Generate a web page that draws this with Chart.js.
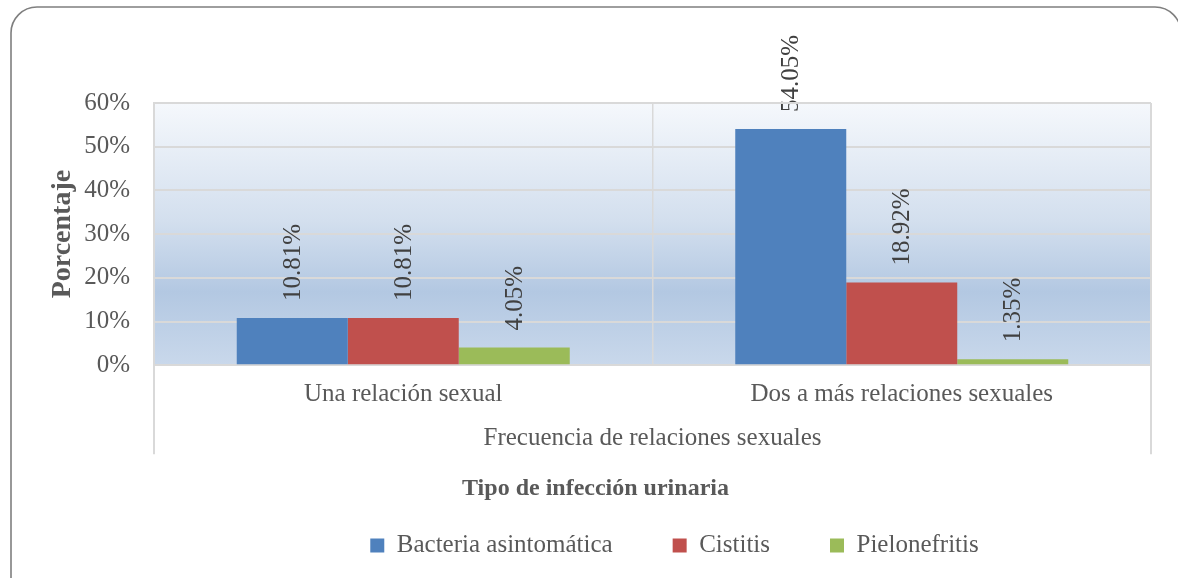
<!DOCTYPE html>
<html>
<head>
<meta charset="utf-8">
<script src="https://cdn.jsdelivr.net/npm/chart.js@4.4.1/dist/chart.umd.min.js"></script>
<style>
  html, body { margin: 0; padding: 0; background: #ffffff; }
  #wrap { width: 1178px; height: 578px; position: relative; }
</style>
</head>
<body>
<div id="wrap"><canvas id="c" width="1178" height="578"></canvas></div>
<script>
const categories = ["Una relación sexual", "Dos a más relaciones sexuales"];
const seriesNames = ["Bacteria asintomática", "Cistitis", "Pielonefritis"];
const bacteriaValues = [10.81, 54.05];
const cistitisValues = [10.81, 18.92];
const pielonefritisValues = [4.05, 1.35];
const yTicks = [0, 10, 20, 30, 40, 50, 60];
const seriesColors = ["#4f81bd", "#c0504d", "#9bbb59"];

const SERIF = "'Liberation Serif', 'Times New Roman', serif";
const GRID = "#d9d9d9";
const TEXT = "#595959";

const frame = {
  id: "frame",
  afterLayout(chart) {
    // legend items sit right of centre in the reference
    if (chart.legend) {
      chart.legend.left += 79;
      chart.legend.right += 79;
    }
  },
  beforeDraw(chart) {
    const ctx = chart.ctx;
    ctx.save();
    ctx.fillStyle = "#ffffff";
    ctx.fillRect(0, 0, chart.width, chart.height);
    ctx.strokeStyle = "#7f7f7f";
    ctx.lineWidth = 1.6;
    const x = 11, y = 7, w = 1170, h = 620, r = 26;
    ctx.beginPath();
    ctx.moveTo(x + r, y);
    ctx.lineTo(x + w - r, y);
    ctx.arcTo(x + w, y, x + w, y + r, r);
    ctx.lineTo(x + w, y + h);
    ctx.lineTo(x, y + h);
    ctx.lineTo(x, y + r);
    ctx.arcTo(x, y, x + r, y, r);
    ctx.closePath();
    ctx.stroke();
    const a = chart.chartArea;
    const g = ctx.createLinearGradient(0, a.top, 0, a.bottom);
    g.addColorStop(0, "#f5f8fc");
    g.addColorStop(0.45, "#d3dfee");
    g.addColorStop(0.72, "#b3c8e2");
    g.addColorStop(1, "#c9d8eb");
    ctx.fillStyle = g;
    ctx.fillRect(a.left, a.top, a.right - a.left, a.bottom - a.top);
    ctx.restore();
  },
  afterDraw(chart) {
    const ctx = chart.ctx;
    const a = chart.chartArea;
    const xs = chart.scales.x;
    ctx.save();
    ctx.strokeStyle = GRID;
    ctx.lineWidth = 2;
    ctx.beginPath();
    ctx.moveTo(a.left, a.top);
    ctx.lineTo(a.right, a.top);
    ctx.moveTo(a.right, a.top);
    ctx.lineTo(a.right, xs.bottom);
    ctx.moveTo(a.left, a.bottom);
    ctx.lineTo(a.left, xs.bottom);
    ctx.stroke();
    ctx.restore();
  }
};

const valueLabels = {
  id: "valueLabels",
  afterDatasetsDraw(chart) {
    const ctx = chart.ctx;
    ctx.save();
    ctx.fillStyle = "#404040";
    ctx.font = "25px " + SERIF;
    ctx.textAlign = "left";
    ctx.textBaseline = "middle";
    chart.data.datasets.forEach((ds, i) => {
      const meta = chart.getDatasetMeta(i);
      meta.data.forEach((bar, j) => {
        const v = ds.data[j];
        ctx.save();
        ctx.translate(bar.x, bar.y - 17);
        ctx.rotate(-Math.PI / 2);
        ctx.fillText(v.toFixed(2) + "%", 0, 1);
        ctx.restore();
      });
    });
    ctx.restore();
  }
};

new Chart(document.getElementById("c"), {
  type: "bar",
  data: {
    labels: categories,
    datasets: [
      { label: seriesNames[0], data: bacteriaValues, backgroundColor: seriesColors[0] },
      { label: seriesNames[1], data: cistitisValues, backgroundColor: seriesColors[1] },
      { label: seriesNames[2], data: pielonefritisValues, backgroundColor: seriesColors[2] }
    ]
  },
  options: {
    responsive: false,
    animation: false,
    events: [],
    categoryPercentage: 0.668,
    barPercentage: 1.0,
    layout: { padding: { left: 40, right: 27, top: 103, bottom: 10 } },
    scales: {
      x: {
        grid: { color: GRID, lineWidth: 1.5, drawTicks: false, offset: true },
        border: { color: GRID, width: 2 },
        ticks: { color: TEXT, font: { family: SERIF, size: 25 }, padding: 14, maxRotation: 0 },
        title: {
          display: true,
          text: "Frecuencia de relaciones sexuales",
          color: TEXT,
          font: { family: SERIF, size: 25 },
          padding: { top: 0, bottom: 1 }
        },
        afterFit(s) { s.height = 89; }
      },
      y: {
        min: 0,
        max: 60,
        afterBuildTicks(s) { s.ticks = yTicks.map(v => ({ value: v })); },
        grid: { color: GRID, lineWidth: 2, drawTicks: false },
        border: { color: GRID, width: 2 },
        ticks: {
          color: TEXT,
          font: { family: SERIF, size: 25 },
          padding: 24,
          callback: v => v + "%"
        },
        title: {
          display: true,
          text: "Porcentaje",
          color: TEXT,
          font: { family: SERIF, size: 28, weight: "bold" },
          padding: { top: 6, bottom: 0 }
        },
        afterFit(s) { s.width = 114; }
      }
    },
    plugins: {
      tooltip: { enabled: false },
      title: {
        display: true,
        position: "bottom",
        weight: 500,
        text: "Tipo de infección urinaria",
        color: TEXT,
        font: { family: SERIF, size: 24, weight: "bold" },
        padding: { top: 20, bottom: -30 }
      },
      legend: {
        position: "bottom",
        labels: {
          color: TEXT,
          font: { family: SERIF, size: 25 },
          boxWidth: 14,
          boxHeight: 14,
          padding: 60
        }
      }
    }
  },
  plugins: [frame, valueLabels]
});
</script>
</body>
</html>
